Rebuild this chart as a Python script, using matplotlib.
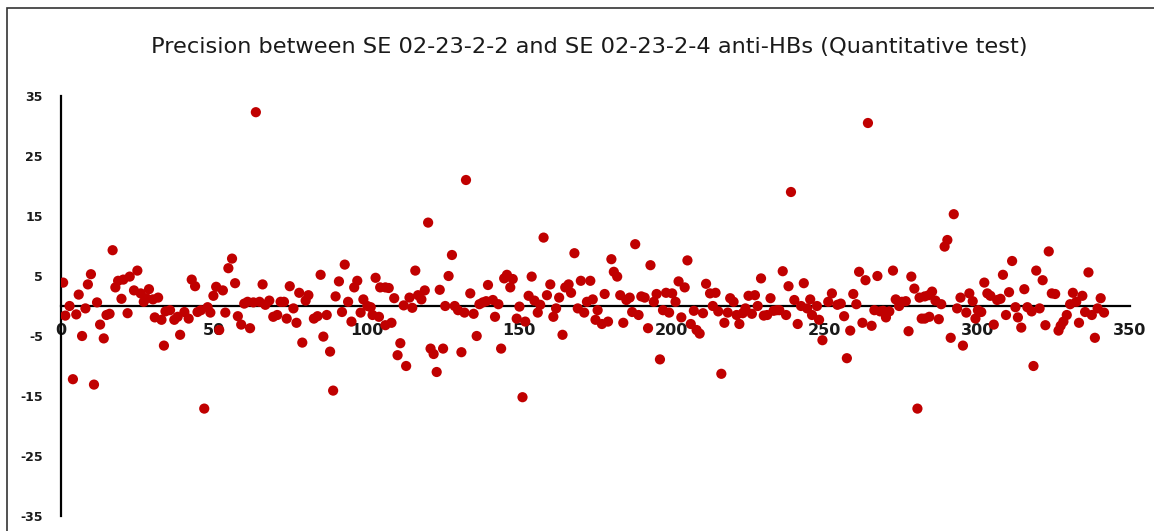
import matplotlib.pyplot as plt
from matplotlib.patches import Rectangle

plt.rcParams["axes.unicode_minus"] = False

# values, one list pair per stretch of the x axis
x_a = [0.7, 1.4, 2.8, 3.9, 5.0, 5.8, 6.9, 8.0, 8.8, 9.8, 10.8, 11.8, 12.8, 14.0, 14.9, 15.9, 16.9,
       17.8, 18.7, 19.8, 20.4, 21.8, 22.5, 23.9, 25.0, 26.1, 27.1, 27.9, 28.8, 30.1, 30.7, 31.8,
       32.9, 33.7, 34.2]
y_a = [3.9, -1.6, 0.0, -12.2, -1.4, 1.9, -5.0, -0.4, 3.6, 5.3, -13.1, 0.6, -3.1, -5.4, -1.5, -1.3, 9.3,
       3.1, 4.2, 1.2, 4.4, -1.2, 4.9, 2.6, 5.9, 2.1, 0.7, 1.3, 2.8, 1.1, -1.9, 1.4,
       -2.3, -6.6, -0.9]

x_b = [35.7, 37.1, 38.2, 39.0, 40.4, 41.8, 42.8, 43.9, 44.7, 45.8, 46.9, 48.0, 48.9, 49.9, 50.8,
       51.8, 53.0, 53.8, 54.8, 56.0, 57.0, 57.9, 59.0, 60.0, 61.1, 61.9, 63.0, 63.8, 65.0, 66.0,
       66.9, 68.2, 69.5]
y_b = [-0.7, -2.3, -1.8, -4.8, -1.0, -2.1, 4.4, 3.3, -1.0, -0.7, -17.1, -0.2, -1.1, 1.7, 3.2,
       -4.0, 2.6, -1.1, 6.3, 7.9, 3.8, -1.7, -3.1, 0.4, 0.7, -3.7, 0.6, 32.3, 0.7, 3.6,
       0.2, 0.9, -1.8]

x_c = [70.8, 71.9, 73.0, 73.9, 74.9, 76.1, 77.1, 78.0, 79.0, 80.1, 81.0, 82.8, 84.0, 85.0, 85.9,
       87.0, 88.1, 89.1, 89.9, 91.0, 92.0, 92.9, 94.0, 95.1, 96.0, 97.0, 98.1, 99.0, 100.3, 101.4,
       102.0, 103.0, 104.1, 104.5]
y_c = [-1.5, 0.7, 0.7, -2.1, 3.3, -0.4, -2.8, 2.2, -6.1, 0.9, 1.8, -2.1, -1.7, 5.2, -5.1,
       -1.5, -7.6, -14.1, 1.6, 4.1, -1.0, 6.9, 0.7, -2.6, 3.1, 4.2, -1.1, 1.1, 0.0, -0.2,
       -1.5, 4.7, -1.8, 3.1]

x_d = [106.2, 106.2, 107.3, 108.2, 109.1, 110.2, 111.1, 112.2, 113.0, 114.1, 115.0, 116.0, 116.9,
       118.0, 119.1, 120.2, 121.0, 122.0, 123.0, 124.0, 125.1, 125.8, 126.9, 128.0, 128.9, 130.0,
       131.1, 132.1, 132.6, 134.0, 135.1, 136.1, 137.0, 138.1, 139.2, 139.8]
y_d = [3.1, -3.2, 3.0, -2.8, 1.3, -8.2, -6.2, 0.1, -10.0, 1.4, -0.3, 5.9, 1.8,
       1.1, 2.6, 13.9, -7.1, -8.0, -11.0, 2.7, -7.1, 0.0, 5.0, 8.5, 0.0, -0.7,
       -7.7, -1.1, 21.0, 2.1, -1.3, -5.0, 0.3, 0.6, 0.8, 3.5]

x_e = [141.4, 142.1, 143.2, 144.1, 145.1, 146.0, 147.1, 147.9, 149.2, 150.1, 151.1, 152.0, 153.1,
       154.1, 155.0, 156.1, 156.9, 158.0, 159.1, 160.2, 161.2, 162.1, 163.1, 164.2, 165.1, 166.2,
       167.0, 168.1, 169.2, 170.2, 171.3, 172.2, 173.3, 174.1, 175.0, 175.7]
y_e = [1.0, -1.8, 0.3, -7.1, 4.6, 5.2, 3.1, 4.5, -2.1, -0.1, -15.2, -2.6, 1.7,
       4.9, 0.9, -1.1, 0.2, 11.4, 1.8, 3.6, -1.8, -0.4, 1.4, -4.8, 3.1, 3.6,
       2.2, 8.8, -0.4, 4.2, -1.1, 0.7, 4.2, 1.1, -2.3, -0.7]

x_f = [177.1, 178.0, 179.1, 180.2, 181.0, 182.1, 183.1, 184.1, 185.1, 186.2, 187.0, 188.0, 189.1,
       190.0, 191.1, 192.2, 193.0, 194.1, 195.0, 196.1, 197.1, 198.1, 199.1, 200.1, 201.2, 202.2,
       203.1, 204.2, 205.1, 206.2, 207.2, 208.1, 209.1, 210.2, 211.2]
y_f = [-3.0, 2.0, -2.6, 7.8, 5.7, 4.9, 1.8, -2.8, 1.0, 1.4, -1.0, 10.3, -1.5,
       1.6, 1.4, -3.7, 6.8, 0.7, 2.0, -8.9, -0.7, 2.2, -1.1, 2.1, 0.7, 4.1,
       -1.9, 3.1, 7.6, -3.0, -0.8, -4.0, -4.6, -1.2, 3.7]

x_g = [212.5, 213.4, 214.3, 215.2, 216.2, 217.2, 218.3, 219.1, 220.2, 221.2, 222.1, 223.2, 224.1,
       225.1, 226.2, 227.2, 228.1, 229.2, 230.1, 231.2, 232.3, 233.3, 234.3, 235.2, 236.3, 237.4,
       238.2, 239.0, 240.1, 241.2, 242.3, 243.2, 244.3, 245.3, 245.9]
y_g = [2.1, 0.0, 2.2, -0.9, -11.3, -2.8, -1.1, 1.3, 0.7, -1.5, -3.0, -1.2, -0.4,
       1.7, -1.3, 1.8, 0.0, 4.6, -1.6, -1.5, 1.3, -0.8, -0.7, -0.7, 5.8, -1.5,
       3.3, 19.0, 1.0, -3.0, 0.0, 3.8, -0.4, 1.1, -1.5]

x_h = [247.5, 248.2, 249.3, 251.2, 252.4, 254.2, 255.3, 256.4, 257.3, 258.4, 259.4, 260.4, 261.3,
       262.4, 263.4, 264.2, 265.4, 266.3, 267.3, 268.2, 269.2, 270.1, 271.2, 272.4, 273.3, 274.4,
       275.3, 276.6, 277.5, 278.4, 279.4, 280.4, 281.1, 281.8]
y_h = [0.0, -2.3, -5.7, 0.7, 2.1, 0.2, 0.4, -1.7, -8.7, -4.1, 2.0, 0.3, 5.7,
       -2.8, 4.3, 30.5, -3.3, -0.7, 5.0, -0.9, -0.8, -1.9, -0.9, 5.9, 1.1, 0.0,
       0.7, 0.8, -4.2, 4.9, 2.9, -17.1, 1.4, -2.1]

x_i = [282.8, 282.8, 284.1, 284.3, 285.2, 286.3, 287.4, 288.2, 289.3, 290.2, 291.3, 292.3, 293.4,
       294.5, 295.3, 296.4, 297.4, 298.5, 299.4, 300.2, 301.3, 302.3, 303.3, 304.3, 305.4, 306.5,
       307.6, 308.4, 309.4, 310.4, 311.4, 312.5, 313.3, 314.4, 315.4, 316.4]
y_i = [1.6, -2.1, 1.8, -1.8, 2.4, 0.9, -2.2, 0.3, 9.9, 11.0, -5.3, 15.3, -0.4,
       1.4, -6.6, -1.1, 2.1, 0.8, -2.1, -0.7, -1.0, 3.9, 2.1, 1.7, -3.1, 1.0,
       1.2, 5.2, -1.5, 2.3, 7.5, -0.2, -1.9, -3.6, 2.8, -0.2]

x_j = [317.8, 318.4, 319.3, 320.4, 321.4, 322.3, 323.4, 324.4, 325.5, 326.6, 327.3, 328.2, 329.3,
       330.4, 331.3, 332.4, 333.3, 334.4, 335.3, 336.4, 337.5, 338.5, 339.4, 340.4, 341.5]
y_j = [-0.9, -10.0, 5.9, -0.4, 4.3, -3.2, 9.1, 2.1, 2.0, -4.1, -3.3, -2.6, -1.5,
       0.3, 2.2, 0.7, -2.8, 1.7, -1.0, 5.6, -1.5, -5.3, -0.4, 1.3, -1.1]

x_vals = x_a + x_b + x_c + x_d + x_e + x_f + x_g + x_h + x_i + x_j
y_vals = y_a + y_b + y_c + y_d + y_e + y_f + y_g + y_h + y_i + y_j

x_ticks = [0, 50, 100, 150, 200, 250, 300, 350]
y_ticks = [35, 25, 15, 5, -5, -15, -25, -35]

fig = plt.figure(figsize=(11.54, 5.31), dpi=100)
ax = fig.add_axes([61 / 1154, 15 / 531, 1069 / 1154, 420 / 531])

ax.scatter(x_vals, y_vals, s=54, color="#C00000", edgecolors="none", zorder=3)

ax.set_xlim(0, 350)
ax.set_ylim(-35, 35)
ax.set_xticks(x_ticks)
ax.set_yticks(y_ticks)

ax.spines["left"].set_position(("data", 0))
ax.spines["bottom"].set_position(("data", 0))
ax.spines["top"].set_visible(False)
ax.spines["right"].set_visible(False)
ax.spines["left"].set_linewidth(1.6)
ax.spines["bottom"].set_linewidth(1.6)
ax.spines["left"].set_zorder(2)
ax.spines["bottom"].set_zorder(2)

ax.tick_params(axis="x", length=0, pad=12, labelsize=11.5, labelcolor="#1a1a1a")
ax.tick_params(axis="y", length=0, pad=13, labelsize=9, labelcolor="#1a1a1a")
for lbl in ax.get_xticklabels() + ax.get_yticklabels():
    lbl.set_fontweight("bold")

fig.text(0.511, 0.912, "Precision between SE 02-23-2-2 and SE 02-23-2-4 anti-HBs (Quantitative test)",
         ha="center", va="center", fontsize=16.2, color="#1a1a1a")

# chart area border (cut off at right and bottom in the reference)
fig.patches.append(Rectangle((7 / 1154, -0.1), 1.2, 1 - 8 / 531 + 0.1,
                             transform=fig.transFigure, fill=False,
                             edgecolor="#333333", linewidth=1.2))

fig.savefig("out.png", dpi=100)
